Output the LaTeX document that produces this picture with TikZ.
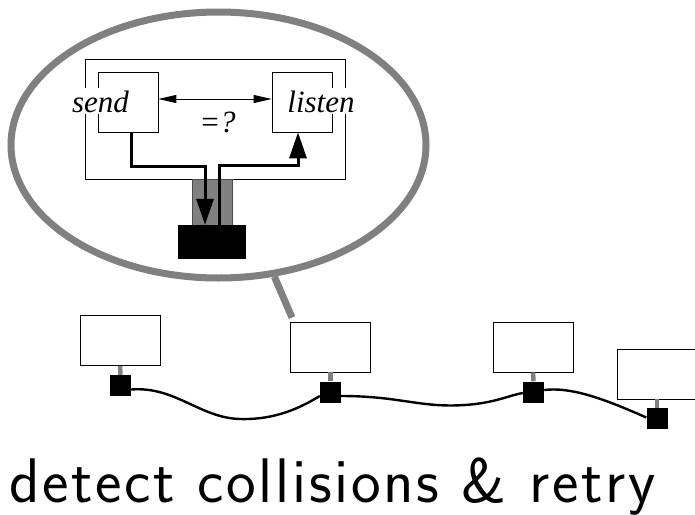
\documentclass[tikz,border=0pt]{standalone}
\usepackage{fontspec}
\setmainfont{Liberation Serif}
\newfontfamily\capfont[LetterSpace=4.3]{Latin Modern Sans}
\usetikzlibrary{arrows.meta,shapes.geometric}
\begin{document}
\begin{tikzpicture}[x=1pt,y=-1pt,
  hostbox/.style={draw=black,line width=0.9pt,fill=white,minimum width=80pt,minimum height=50pt,inner sep=0pt},
  tap/.style={fill=black,minimum width=21pt,minimum height=21pt,inner sep=0pt},
  stem/.style={draw=gray,line width=4.5pt},
  cable/.style={draw=black,line width=2.4pt},
  procbox/.style={draw=black,line width=0.7pt,minimum width=60pt,minimum height=60pt,inner sep=0pt},
  proclabel/.style={fill=white,inner sep=2pt,font=\fontsize{31}{31}\selectfont\itshape},
  thinarrow/.style={draw=black,line width=0.9pt,{Triangle[length=18pt,width=8pt]}-{Triangle[length=18pt,width=8pt]}},
  bigarrow/.style={draw=black,line width=3pt,-{Triangle[length=26pt,width=17pt]}},
  bubbleline/.style={draw=gray,line width=7pt}
]
\useasboundingbox (0,0) rectangle (695,514);

% speech bubble
\node[bubbleline,shape=ellipse,minimum width=415pt,minimum height=266pt,inner sep=0pt] (bubble) at (218.5,145) {};

% station inside
\node[draw=black,line width=0.7pt,minimum width=260pt,minimum height=120pt,inner sep=0pt] (station) at (215,119) {};
\node[procbox] (sendbox) at (128,102) {};
\node[procbox] (listenbox) at (302,102) {};
\node[proclabel,anchor=base] (sendtxt) at (100.5,112) {send};
\node[proclabel,anchor=base] (listentxt) at (321,112) {listen};
\node[anchor=base,inner sep=0pt,font=\fontsize{31}{31}\selectfont\itshape] (cmp) at (217.5,132) {=?};
\draw[thinarrow] ([yshift=3pt]sendbox.east) -- ([yshift=3pt]listenbox.west);

% plug and interface
\node[fill=gray,draw=black!70,line width=0.6pt,minimum width=40pt,minimum height=46pt,inner sep=0pt] (plug) at (212,202) {};
\node[fill=black,minimum width=68pt,minimum height=34pt,inner sep=0pt] (nic) at (212,242) {};
\draw[bigarrow] ([xshift=3pt]sendbox.south) -- ++(0,34) -| ([xshift=-7pt]nic.north);
\draw[bigarrow] ([xshift=7pt]nic.north) -- ++(0,-59) -| ([xshift=-4pt]listenbox.south);

% hosts
\node[hostbox] (h1) at (120,340.5) {};
\node[hostbox] (h2) at (330.5,347) {};
\node[hostbox] (h3) at (533,347) {};
\node[hostbox] (h4) at (657,374) {};
\node[tap] (s1) at (120.5,385.5) {};
\node[tap] (s2) at (330.5,392) {};
\node[tap] (s3) at (533.5,392) {};
\node[tap] (s4) at (657,418.5) {};
\draw[stem] (h1.south) -- (s1.north);
\draw[stem] (h2.south) -- (s2.north);
\draw[stem] (h3.south) -- (s3.north);
\draw[stem] (h4.south) -- (s4.north);

% pointer of bubble
\draw[bubbleline] (bubble.-67) -- ([xshift=-38.5pt,yshift=4pt]h2.north);

% cable
\draw[cable] ([yshift=-4pt]s1.east) .. controls (175,386) and (200,418) .. (240,419) coordinate (c1)
  .. controls (275,420) and (300,408) .. ([yshift=-4pt]s2.west);
\draw[cable] ([yshift=-4pt]s2.east) .. controls (400,396) and (420,408) .. (465,405) coordinate (c2)
  .. controls (495,403) and (510,395) .. ([yshift=-1pt]s3.west);
\draw[cable] ([yshift=2pt]s3.east) .. controls (570,387) and (600,397) .. ([yshift=1pt]s4.west);

% caption
\node[anchor=base west,inner sep=0pt,font=\fontsize{63}{63}\selectfont\capfont] (caption) at (9,502) {detect collisions \& retry};
\end{tikzpicture}
\end{document}
